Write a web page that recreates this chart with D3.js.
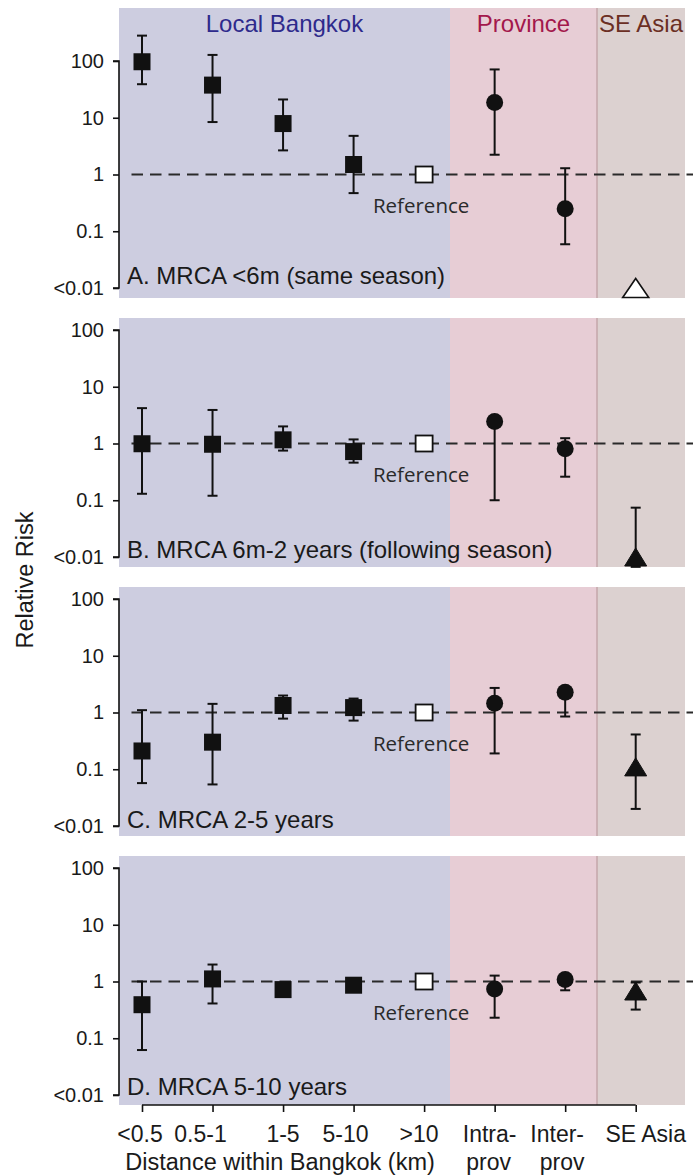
<!DOCTYPE html>
<html><head><meta charset="utf-8">
<script src="https://cdn.jsdelivr.net/npm/d3@7/dist/d3.min.js"></script>
<style>body{margin:0;background:#fff}</style>
</head><body><svg id="c" width="693" height="1176"></svg>
<script>
// ---------------- data ----------------
const categories = ["<0.5","0.5-1","1-5","5-10",">10","Intra-prov","Inter-prov","SE Asia"];
const categoryLines = [["<0.5"],["0.5-1"],["1-5"],["5-10"],[">10"],["Intra-","prov"],["Inter-","prov"],["SE Asia"]];
const markerShapes = ["square","square","square","square","reference","circle","circle","triangle"];
const groups = ["Local Bangkok","Province","SE Asia"];
const panelLabels = ["A. MRCA <6m (same season)","B. MRCA 6m-2 years (following season)","C. MRCA 2-5 years","D. MRCA 5-10 years"];
const yTickValues = [100,10,1,0.1,0.01];
const yTickLabels = ["100","10","1","0.1","<0.01"];

// relative risk estimates and 95% CI (null = no bar)
const riskA = [97, 37.6, 7.9, 1.5, 1, 18.6, 0.25, 0.01];
const lowA  = [39, 8.4, 2.66, 0.47, null, 2.23, 0.059, null];
const highA = [280, 128, 21, 4.8, null, 71, 1.29, null];
const openA = [false,false,false,false,true,false,false,true];

const riskB = [0.99, 0.97, 1.16, 0.72, 1, 2.45, 0.81, 0.01];
const lowB  = [0.13, 0.12, 0.75, 0.46, null, 0.10, 0.26, 0.0067];
const highB = [4.2, 3.9, 2.0, 1.18, null, 2.8, 1.24, 0.074];

const riskC = [0.21, 0.30, 1.33, 1.22, 1, 1.46, 2.27, 0.11];
const lowC  = [0.057, 0.054, 0.78, 0.72, null, 0.19, 0.85, 0.020];
const highC = [1.1, 1.42, 1.99, 1.76, null, 2.71, 2.6, 0.41];

const riskD = [0.39, 1.11, 0.72, 0.86, 1, 0.74, 1.08, 0.68];
const lowD  = [0.062, 0.41, 0.58, 0.78, null, 0.23, 0.70, 0.32];
const highD = [1.0, 1.99, 0.86, 0.95, null, 1.27, 1.2, 0.96];

const panels = [
  {risk: riskA, low: lowA, high: highA, open: openA},
  {risk: riskB, low: lowB, high: highB, open: null},
  {risk: riskC, low: lowC, high: highC, open: null},
  {risk: riskD, low: lowD, high: highD, open: null}
];

// ---------------- layout ----------------
const svg = d3.select("#c");
const W = 693;
const axisX = 119, bgRight = 685;
const x = d3.scalePoint().domain(categories).range([142, 635.7]);
const regionEdges = [axisX, 450, 597, bgRight];
const regionFill = ["#cdcde0", "#e7cdd5", "#dcd1d0"];
const groupColor = ["#2e2a8c", "#a3184c", "#6b2f24"];
const panelTop0 = 61, panelStep = 269, panelH = 227;
const labelDy = [-4, 1, 2, 0];
const tickLabelDx = [[-2],[-12],[0],[-8],[-5],[-5,-6],[-8,-3],[10]];
const sans = "'Liberation Sans', Arial, Helvetica, sans-serif";
const ink = "#111";

panels.forEach((p, pi) => {
  const yTop = panelTop0 + pi * panelStep;
  const y = d3.scaleLog().domain([0.01, 100]).range([yTop + panelH, yTop]);
  const g = svg.append("g");
  const bgTop = pi === 0 ? 8 : yTop - 12;
  const bgBot = y(0.01) + 10;

  // background regions
  for (let r = 0; r < 3; r++) {
    g.append("rect").attr("x", regionEdges[r]).attr("y", bgTop)
      .attr("width", regionEdges[r+1] - regionEdges[r]).attr("height", bgBot - bgTop)
      .attr("fill", regionFill[r]);
  }
  g.append("line").attr("x1", regionEdges[2]).attr("x2", regionEdges[2])
    .attr("y1", bgTop).attr("y2", bgBot).attr("stroke", "#c4a6aa").attr("stroke-width", 1.5);

  // headers
  if (pi === 0) {
    groups.forEach((name, r) => {
      g.append("text").attr("x", (regionEdges[r] + regionEdges[r+1]) / 2).attr("y", 32)
        .attr("text-anchor", "middle").attr("font-family", sans).attr("font-size", 24)
        .attr("fill", groupColor[r]).text(name);
    });
  }

  // reference dashed line
  g.append("line").attr("x1", 131.5).attr("x2", W).attr("y1", y(1)).attr("y2", y(1))
    .attr("stroke", "#2a2a2a").attr("stroke-width", 2.2).attr("stroke-dasharray", "11.5,7");

  // y axis
  const yAxis = d3.axisLeft(y).tickValues(yTickValues)
    .tickFormat((d, i) => yTickLabels[i]).tickSize(6).tickPadding(9);
  const ag = g.append("g").attr("transform", `translate(${axisX},0)`).call(yAxis);
  ag.select(".domain").attr("d", `M-6,${y(100)}H0V${y(0.01)}H-6`).attr("stroke", ink).attr("stroke-width", 1.6);
  ag.selectAll(".tick line").attr("stroke", ink).attr("stroke-width", 1.6);
  ag.selectAll(".tick text").attr("font-family", sans).attr("font-size", 20).attr("fill", "#1a1a1a");

  // panel label
  g.append("text").attr("x", 127).attr("y", y(0.01) + labelDy[pi])
    .attr("font-family", sans).attr("font-size", 24).attr("fill", "#1a1a1a")
    .text(panelLabels[pi]);

  // "Reference" label
  g.append("text").attr("x", x(">10") - 3).attr("y", y(1) + 38)
    .attr("text-anchor", "middle").attr("font-family", "'Open Sans', sans-serif")
    .attr("font-size", 20.5).attr("fill", "#2a2a2a").text("Reference");

  // error bars
  categories.forEach((c, i) => {
    if (p.low[i] == null) return;
    const cx = x(c);
    const y1 = y(p.low[i]), y2 = y(p.high[i]);
    g.append("line").attr("x1", cx).attr("x2", cx).attr("y1", y1).attr("y2", y2)
      .attr("stroke", ink).attr("stroke-width", 2);
    [y1, y2].forEach(yy => g.append("line").attr("x1", cx - 5).attr("x2", cx + 5)
      .attr("y1", yy).attr("y2", yy).attr("stroke", ink).attr("stroke-width", 2));
  });

  // markers
  categories.forEach((c, i) => {
    const cx = x(c), cy = y(p.risk[i]);
    const shape = markerShapes[i];
    const open = p.open ? p.open[i] : false;
    if (shape === "square") {
      g.append("rect").attr("x", cx - 8.5).attr("y", cy - 8.5).attr("width", 17).attr("height", 17)
        .attr("fill", ink);
    } else if (shape === "reference") {
      g.append("rect").attr("x", cx - 8.5).attr("y", cy - 8).attr("width", 17).attr("height", 16)
        .attr("fill", "#fff").attr("stroke", ink).attr("stroke-width", 1.8);
    } else if (shape === "circle") {
      g.append("circle").attr("cx", cx).attr("cy", cy).attr("r", 8.5).attr("fill", ink);
    } else {
      const w = open ? 26 : 22, h = open ? 19 : 18;
      g.append("path")
        .attr("d", `M${cx},${cy - h/2}L${cx + w/2},${cy + h/2}L${cx - w/2},${cy + h/2}Z`)
        .attr("fill", open ? "#fff" : ink).attr("stroke", ink).attr("stroke-width", open ? 1.6 : 1)
        .attr("stroke-linejoin", "miter");
    }
  });

  // x axis on last panel
  if (pi === panels.length - 1) {
    const xa = g.append("g").attr("transform", `translate(0,${bgBot})`)
      .call(d3.axisBottom(x).tickSize(7).tickFormat(""));
    xa.select(".domain").attr("d", `M${x.range()[0]},0H${x.range()[1]}`).attr("stroke", ink).attr("stroke-width", 1.6);
    xa.selectAll(".tick line").attr("stroke", ink).attr("stroke-width", 1.6);
    categories.forEach((c, i) => {
      categoryLines[i].forEach((line, li) => {
        g.append("text").attr("x", x(c) + tickLabelDx[i][li]).attr("y", 1142 + li * 28)
          .attr("text-anchor", "middle").attr("font-family", sans).attr("font-size", 23)
          .attr("fill", "#1a1a1a").text(line);
      });
    });
    g.append("text").attr("x", (x("<0.5") + x(">10")) / 2 - 3).attr("y", 1170)
      .attr("text-anchor", "middle").attr("font-family", sans).attr("font-size", 23.5)
      .attr("fill", "#1a1a1a").text("Distance within Bangkok (km)");
  }
});

// y axis title
svg.append("text").attr("transform", "translate(33,580) rotate(-90)")
  .attr("text-anchor", "middle").attr("font-family", sans).attr("font-size", 23.5)
  .attr("fill", "#1a1a1a").text("Relative Risk");
</script></body></html>
